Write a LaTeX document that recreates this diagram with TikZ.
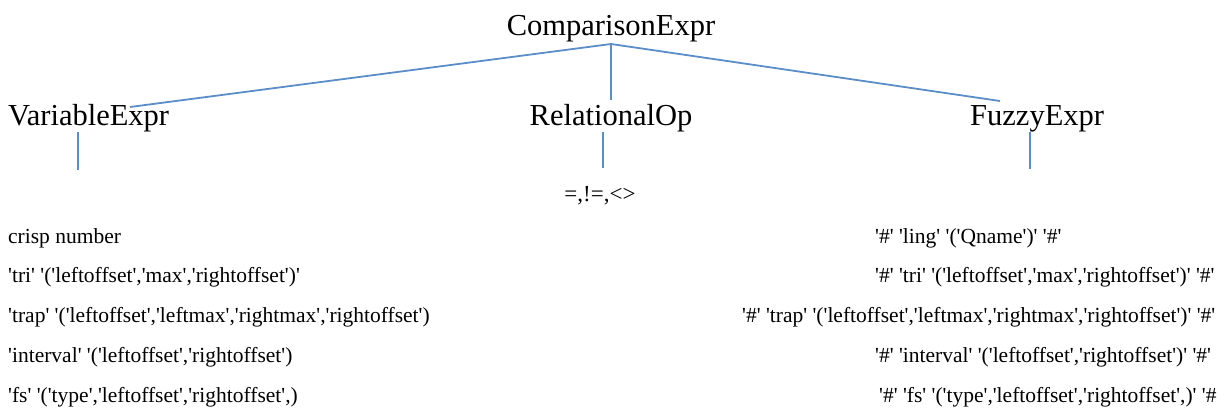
\documentclass[tikz,border=0pt]{standalone}
\usepackage{fontspec}
\setmainfont{Liberation Serif}[Ligatures=TeXOff]
\definecolor{linkblue}{RGB}{91,141,201}
\begin{document}
\begin{tikzpicture}[x=1pt,y=-1pt,
  big/.style={inner sep=0pt,font=\fontsize{30.5}{36}\selectfont},
  small/.style={inner sep=0pt,anchor=base west,font=\fontsize{21.5}{25}\selectfont},
  link/.style={draw=linkblue,line width=1.8pt}]
\useasboundingbox (0,0) rectangle (1219,410);
% main nodes
\node[big,anchor=base] (cmp) at (611,35) {ComparisonExpr};
\node[big,anchor=base west] (var) at (8,125) {VariableExpr};
\node[big,anchor=base] (rel) at (611,125) {RelationalOp};
\node[big,anchor=base west] (fuz) at (970,125) {FuzzyExpr};
% connector end points
\coordinate (j) at (611,44);
\coordinate (vend) at (130,107);
\coordinate (rend) at (611,100);
\coordinate (fend) at (1000,101);
\coordinate (va) at (78,132);
\coordinate (vb) at (78,170);
\coordinate (ra) at (603,132);
\coordinate (rb) at (603,168);
\coordinate (fa) at (1030,132);
\coordinate (fb) at (1030,169);
\draw[link] (j) -- (vend);
\draw[link] (j) -- (rend);
\draw[link] (j) -- (fend);
\draw[link] (va) -- (vb);
\draw[link] (ra) -- (rb);
\draw[link] (fa) -- (fb);
% relational operators
\node[small,anchor=base,font=\fontsize{23}{27}\selectfont] (ops) at (600,201) {=,!=,<>};
% left column
\node[small] (l1) at (8,243) {crisp number};
\node[small] (l2) at (8,282) {'tri' '('leftoffset','max','rightoffset')'};
\node[small] (l3) at (8,322) {'trap' '('leftoffset','leftmax','rightmax','rightoffset')};
\node[small] (l4) at (8,362) {'interval' '('leftoffset','rightoffset')};
\node[small] (l5) at (8,402) {'fs' '('type','leftoffset','rightoffset',)};
% right column
\node[small] (r1) at (875,243) {'\#' 'ling' '('Qname')' '\#'};
\node[small] (r2) at (875,282) {'\#' 'tri' '('leftoffset','max','rightoffset')' '\#'};
\node[small] (r3) at (742,322) {'\#' 'trap' '('leftoffset','leftmax','rightmax','rightoffset')' '\#'};
\node[small] (r4) at (875,362) {'\#' 'interval' '('leftoffset','rightoffset')' '\#'};
\node[small] (r5) at (879,402) {'\#' 'fs' '('type','leftoffset','rightoffset',)' '\#};
\end{tikzpicture}
\end{document}
